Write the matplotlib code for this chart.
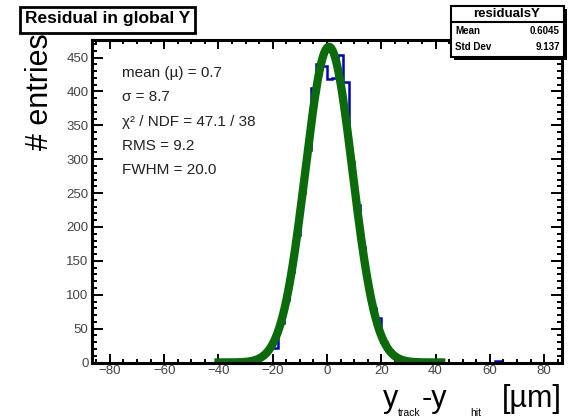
import matplotlib.pyplot as plt
import numpy as np
from matplotlib.patches import Rectangle
from matplotlib.ticker import MultipleLocator

plt.rcParams['font.family'] = ['Liberation Sans', 'DejaVu Sans']

# histogram: 2 um bins from -86 to 86
bin_lo = -86.0
bin_hi = 86.0
bin_w = 2.0
counts = [
    0, 0, 0, 0, 0, 0, 0, 0, 0, 0,              # -86 .. -66
    0, 0, 0, 0, 0, 0, 0, 0, 0, 0,              # -66 .. -46
    0, 0, 0, 0, 0, 0, 0, 1, 1, 3,              # -46 .. -26
    6, 11, 21, 22, 58, 92, 133, 188, 250, 314,  # -26 .. -6
    405, 440, 438, 418, 420, 454, 414, 296, 232, 170,  # -6 .. 14
    121, 81, 66, 30, 18, 10, 5, 2, 1, 1,       # 14 .. 34
    0, 0, 0, 0, 0, 0, 0, 0, 0, 0,              # 34 .. 54
    0, 0, 0, 0, 2, 0, 0, 0, 0, 0,              # 54 .. 74
    0, 0, 0, 0, 0, 0,                          # 74 .. 86
]

# gaussian fit result
fit_amp = 466.0
fit_mean = 0.7
fit_sigma = 8.7
fit_lo = -41.5
fit_hi = 43.6

fit_lines = ['mean (µ) = 0.7', 'σ = 8.7', 'χ² / NDF = 47.1 / 38',
             'RMS = 9.2', 'FWHM = 20.0']
stat_names = ['Mean', 'Std Dev']
stat_values = ['0.6045', '9.137']

W, H = 571, 418
fig = plt.figure(figsize=(W / 100, H / 100), dpi=100)
ax = fig.add_axes([92 / W, 1 - 362.5 / H, (562 - 92) / W, (362.5 - 40) / H])

edges = bin_lo + bin_w * np.arange(len(counts) + 1)
ax.stairs(counts, edges, color='#0000c0', linewidth=1.8)

xf = np.linspace(fit_lo, fit_hi, 400)
yf = fit_amp * np.exp(-0.5 * ((xf - fit_mean) / fit_sigma) ** 2)
ax.plot(xf, yf, color='#0b6b0b', linewidth=6.0, solid_capstyle='butt')

ax.set_xlim(-86.6, 86.6)
ax.set_ylim(0, 476)

ax.xaxis.set_major_locator(MultipleLocator(20))
ax.xaxis.set_minor_locator(MultipleLocator(5))
ax.yaxis.set_major_locator(MultipleLocator(50))
ax.yaxis.set_minor_locator(MultipleLocator(10))
ax.tick_params(which='both', direction='in', top=True, right=True,
               width=1.4, colors='black', labelcolor='#444444', labelsize=9.5)
ax.tick_params(axis='x', which='major', length=6.5, pad=1.5)
ax.tick_params(axis='x', which='minor', length=3.2)
ax.tick_params(axis='y', which='major', length=8, pad=2.5)
ax.tick_params(axis='y', which='minor', length=3.6)
for sp in ax.spines.values():
    sp.set_linewidth(2.2)

for i, line in enumerate(fit_lines):
    ax.text(122 / W, 1 - 73 / H - i * 24.3 / H, line, transform=fig.transFigure,
            fontsize=11, color='#222222', va='center', ha='left')

# axis titles
fig.text(40 / W, 1 - 33 / H, '# entries', rotation=90, ha='center', va='top',
         fontsize=22)
base = 1 - 407 / H
sub = 1 - 416.5 / H
fig.text(383 / W, base, 'y', ha='left', va='baseline', fontsize=22)
fig.text(398 / W, sub, 'track', ha='left', va='baseline', fontsize=7.5)
fig.text(422 / W, base, '-y', ha='left', va='baseline', fontsize=22)
fig.text(470 / W, sub, 'hit', ha='left', va='baseline', fontsize=7.5)
fig.text(562 / W, base, '[µm]', ha='right', va='baseline', fontsize=22)

# title box
fig.add_artist(Rectangle((20 / W, 1 - 33 / H), 175 / W, 26 / H, transform=fig.transFigure,
                         facecolor='white', edgecolor='black', linewidth=2.0))
fig.text(108 / W, 1 - 19 / H, 'Residual in global Y', ha='center', va='center',
         fontsize=12.5, fontweight='bold')

# stats box with shadow
fig.add_artist(Rectangle((454 / W, 1 - 60 / H), 113 / W, 51 / H, transform=fig.transFigure,
                         facecolor='black', edgecolor='none'))
fig.add_artist(Rectangle((451 / W, 1 - 57 / H), 113 / W, 51 / H, transform=fig.transFigure,
                         facecolor='white', edgecolor='black', linewidth=1.5))
fig.add_artist(plt.Line2D([451 / W, 564 / W], [1 - 22 / H, 1 - 22 / H],
                          transform=fig.transFigure, color='black', linewidth=1.5))
fig.text(507 / W, 1 - 14 / H, 'residualsY', ha='center', va='center',
         fontsize=9.5, fontweight='bold')
for i, (nm, val) in enumerate(zip(stat_names, stat_values)):
    yy = 1 - (31 + i * 16) / H
    fig.text(455 / W, yy, nm, ha='left', va='center', fontsize=7, fontweight='bold')
    fig.text(560 / W, yy, val, ha='right', va='center', fontsize=7, fontweight='bold')

fig.savefig('out.png', dpi=100)
